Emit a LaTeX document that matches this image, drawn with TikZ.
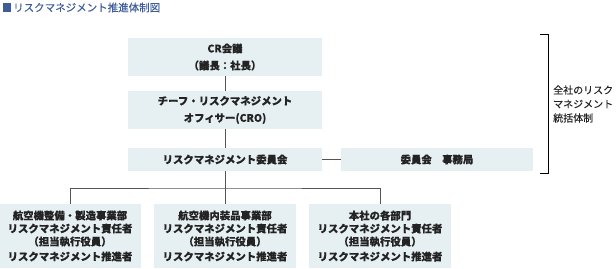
\documentclass[tikz,border=0pt]{standalone}
\usepackage{fontspec}
\setmainfont{Noto Sans CJK JP}[FakeBold=0.12]
\usetikzlibrary{positioning}
\definecolor{boxfill}{RGB}{230,240,243}
\definecolor{titleblue}{RGB}{62,92,150}
\definecolor{linegray}{RGB}{85,85,85}
\definecolor{textgray}{RGB}{35,35,35}

\begin{document}
\begin{tikzpicture}[x=1pt, y=-1pt,
    orgbox/.style={fill=boxfill, text=textgray, align=center, inner sep=0pt,
      font=\fontsize{10.4}{17}\selectfont\bfseries},
    unitbox/.style={orgbox, minimum width=142pt, minimum height=64pt,
      font=\fontsize{10.4}{13}\selectfont\bfseries},
    link/.style={draw=linegray, line width=0.8pt},
]
  \useasboundingbox (0,0) rectangle (616,268);

  % Title
  \fill[titleblue] (3,3) rectangle (11,12);
  \node[anchor=west, text=titleblue, inner sep=0pt, font=\fontsize{10.5}{12}\selectfont] (title) at (13,7.5) {リスクマネジメント推進体制図};

  % Company-wide boxes
  \node[orgbox, minimum width=194pt, minimum height=38pt] (meeting) at (225,57) {CR会議\\（議長：社長）};
  \node[orgbox, minimum width=194pt, minimum height=38pt] (cro) at (225,110) {チーフ・リスクマネジメント\\オフィサー(CRO)};
  \node[orgbox, minimum width=194pt, minimum height=23pt] (committee) at (225,159.5) {リスクマネジメント委員会};
  \node[orgbox, minimum width=192pt, minimum height=23pt] (office) at (437,159.5) {委員会　事務局};

  % Business units
  \node[unitbox] (maint) at (70,236) {航空機整備・製造事業部\\リスクマネジメント責任者\\（担当執行役員）\\[2pt]リスクマネジメント推進者};
  \node[unitbox] (interior) at (225,236) {航空機内装品事業部\\リスクマネジメント責任者\\（担当執行役員）\\[2pt]リスクマネジメント推進者};
  \node[unitbox] (hq) at (380,236) {本社の各部門\\リスクマネジメント責任者\\（担当執行役員）\\[2pt]リスクマネジメント推進者};

  % Connectors
  \draw[link] (meeting) -- (cro);
  \draw[link] (cro) -- (committee);
  \draw[link] (committee) -- (office);
  \coordinate (bus) at (225,188);
  \draw[link] (committee.south) -- (bus);
  \draw[link] (maint.north) |- (bus) -| (hq.north);
  \draw[link] (bus) -- (interior.north);

  % Bracket
  \coordinate (brtop) at (540,34);
  \coordinate (brbot) at (540,173);
  \draw[draw=black, line width=0.9pt] (brtop) -- ++(8.5,0) |- (brbot);
  \node[anchor=west, align=left, text=textgray, inner sep=0pt, font=\fontsize{10}{14}\selectfont] (scope) at (553,104) {全社のリスク\\マネジメント\\統括体制};
\end{tikzpicture}
\end{document}
